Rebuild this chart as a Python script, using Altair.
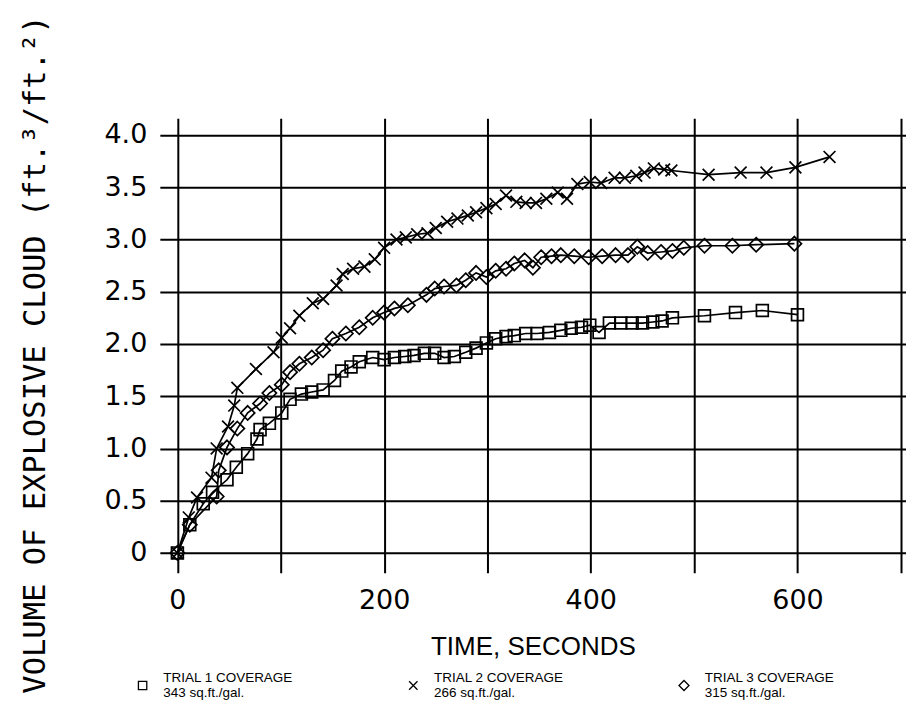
import altair as alt
import pandas as pd

# ---- data ----
t1_time = [0, 12, 25, 34, 48, 57, 68, 77, 80, 89, 101, 109, 120, 130, 141, 152, 159, 168,
           176, 189, 200, 210, 220, 229, 239, 249, 258, 268, 279, 289, 299, 308, 318, 326,
           337, 348, 360, 371, 381, 391, 399, 408, 418, 429, 440, 450, 460, 469, 479, 510,
           540, 566, 600]
t1_vol = [0, 0.27, 0.47, 0.58, 0.70, 0.82, 0.95, 1.09, 1.18, 1.24, 1.34, 1.47, 1.52, 1.54,
          1.56, 1.65, 1.74, 1.78, 1.83, 1.87, 1.85, 1.87, 1.88, 1.89, 1.91, 1.91, 1.87, 1.88,
          1.92, 1.96, 2.01, 2.05, 2.07, 2.08, 2.10, 2.10, 2.11, 2.13, 2.15, 2.16, 2.18, 2.11,
          2.20, 2.20, 2.20, 2.20, 2.21, 2.22, 2.25, 2.27, 2.30, 2.32, 2.28]

t2_time = [0, 11, 19, 33, 38, 49, 55, 58, 76, 93, 101, 109, 118, 131, 141, 154, 160, 170,
           181, 191, 200, 212, 221, 232, 242, 250, 261, 271, 281, 289, 299, 308, 318, 328,
           337, 347, 357, 368, 377, 387, 399, 410, 423, 433, 444, 452, 461, 471, 478, 514,
           545, 570, 598, 631]
t2_vol = [0, 0.34, 0.53, 0.72, 1.00, 1.21, 1.41, 1.58, 1.76, 1.92, 2.06, 2.15, 2.27, 2.39,
          2.43, 2.56, 2.67, 2.72, 2.74, 2.81, 2.92, 3.00, 3.02, 3.05, 3.06, 3.11, 3.17, 3.20,
          3.23, 3.26, 3.30, 3.34, 3.42, 3.36, 3.35, 3.35, 3.39, 3.45, 3.39, 3.53, 3.55, 3.54,
          3.59, 3.59, 3.61, 3.64, 3.68, 3.67, 3.66, 3.62, 3.64, 3.64, 3.69, 3.79]

t3_time = [0, 12, 38, 40, 48, 58, 68, 80, 89, 101, 109, 118, 130, 141, 150, 163, 176, 189,
           200, 210, 223, 241, 249, 258, 270, 279, 289, 299, 308, 318, 326, 336, 344, 352,
           362, 371, 384, 398, 411, 424, 436, 445, 455, 468, 479, 490, 510, 537, 560, 597]
t3_vol = [0, 0.27, 0.54, 0.79, 1.01, 1.19, 1.34, 1.43, 1.53, 1.61, 1.73, 1.81, 1.87, 1.94,
          2.05, 2.10, 2.16, 2.25, 2.30, 2.34, 2.37, 2.47, 2.53, 2.55, 2.56, 2.61, 2.68, 2.64,
          2.70, 2.72, 2.77, 2.80, 2.73, 2.83, 2.84, 2.85, 2.84, 2.83, 2.84, 2.85, 2.85, 2.93,
          2.87, 2.88, 2.89, 2.92, 2.94, 2.94, 2.95, 2.96]

series_names = ["TRIAL 1 COVERAGE|343 sq.ft./gal.",
                "TRIAL 2 COVERAGE|266 sq.ft./gal.",
                "TRIAL 3 COVERAGE|315 sq.ft./gal."]
series_shapes = ["square", "M-1,-1L1,1M-1,1L1,-1", "M0,-1.2L1.2,0L0,1.2L-1.2,0Z"]

x_grid = [0, 100, 200, 300, 400, 500, 600, 700]
y_grid = [0, 0.5, 1.0, 1.5, 2.0, 2.5, 3.0, 3.5, 4.0]

rows = []
for name, ts, vs in zip(series_names, [t1_time, t2_time, t3_time], [t1_vol, t2_vol, t3_vol]):
    for t, v in zip(ts, vs):
        rows.append({"series": name, "time": t, "volume": v})
df = pd.DataFrame(rows)

x_enc = alt.X(
    "time:Q",
    scale=alt.Scale(domain=[-17, 705], nice=False, zero=False),
    axis=alt.Axis(
        values=x_grid,
        labelExpr="datum.value % 200 == 0 ? datum.label : ''",
        grid=True, gridColor="black", gridWidth=2, gridOpacity=1,
        domain=False, ticks=False,
        labelFont="DejaVu Sans", labelFontSize=27, labelColor="black",
        labelPadding=15,
        title="TIME, SECONDS", titleFont="Liberation Sans", titleFontSize=26,
        titleFontWeight="normal", titleColor="black",
        titleY=82, titleBaseline="alphabetic",
    ),
)
y_enc = alt.Y(
    "volume:Q",
    scale=alt.Scale(domain=[-0.19, 4.16], nice=False, zero=False),
    axis=alt.Axis(
        values=y_grid,
        labelExpr="datum.value == 0 ? '0' : format(datum.value, '.1f')",
        grid=True, gridColor="black", gridWidth=2, gridOpacity=1,
        domain=False, ticks=False,
        labelFont="DejaVu Sans", labelFontSize=27, labelColor="black",
        labelPadding=13,
        title="VOLUME OF EXPLOSIVE CLOUD (ft.³/ft.²)",
        titleFont="DejaVu Sans Mono", titleFontSize=30.5, titleFontWeight="normal",
        titleColor="black", titleAngle=270, titleAlign="center",
        titleBaseline="middle", titleX=-124, titleY=236,
    ),
)

lines = alt.Chart(df).mark_line(color="black", strokeWidth=1.7).encode(
    x=x_enc, y=y_enc, detail="series:N"
)

points = alt.Chart(df).mark_point(
    filled=False, color="black", strokeWidth=1.7, size=140, opacity=1
).encode(
    x=x_enc,
    y=y_enc,
    shape=alt.Shape(
        "series:N",
        scale=alt.Scale(domain=series_names, range=series_shapes),
        legend=alt.Legend(
            orient="none", legendX=-24, legendY=561,
            direction="horizontal", columns=3, columnPadding=112,
            title=None, padding=0,
            labelExpr="split(datum.label, '|')",
            labelFont="Liberation Sans", labelFontSize=13.5, labelColor="black",
            labelLimit=300, labelOffset=14,
            labelBaseline="line-bottom",
            symbolSize=70, symbolStrokeWidth=1.3,
            symbolStrokeColor="black", symbolFillColor="transparent",
        ),
    ),
)

chart = alt.layer(lines, points).properties(
    width=747,
    height=455,
    autosize=alt.AutoSizeParams(type="none"),
    padding={"left": 152, "top": 110, "right": 0, "bottom": 135},
).configure_view(stroke=None)

chart.save("out.html", embed_options={"renderer": "svg", "actions": False})
